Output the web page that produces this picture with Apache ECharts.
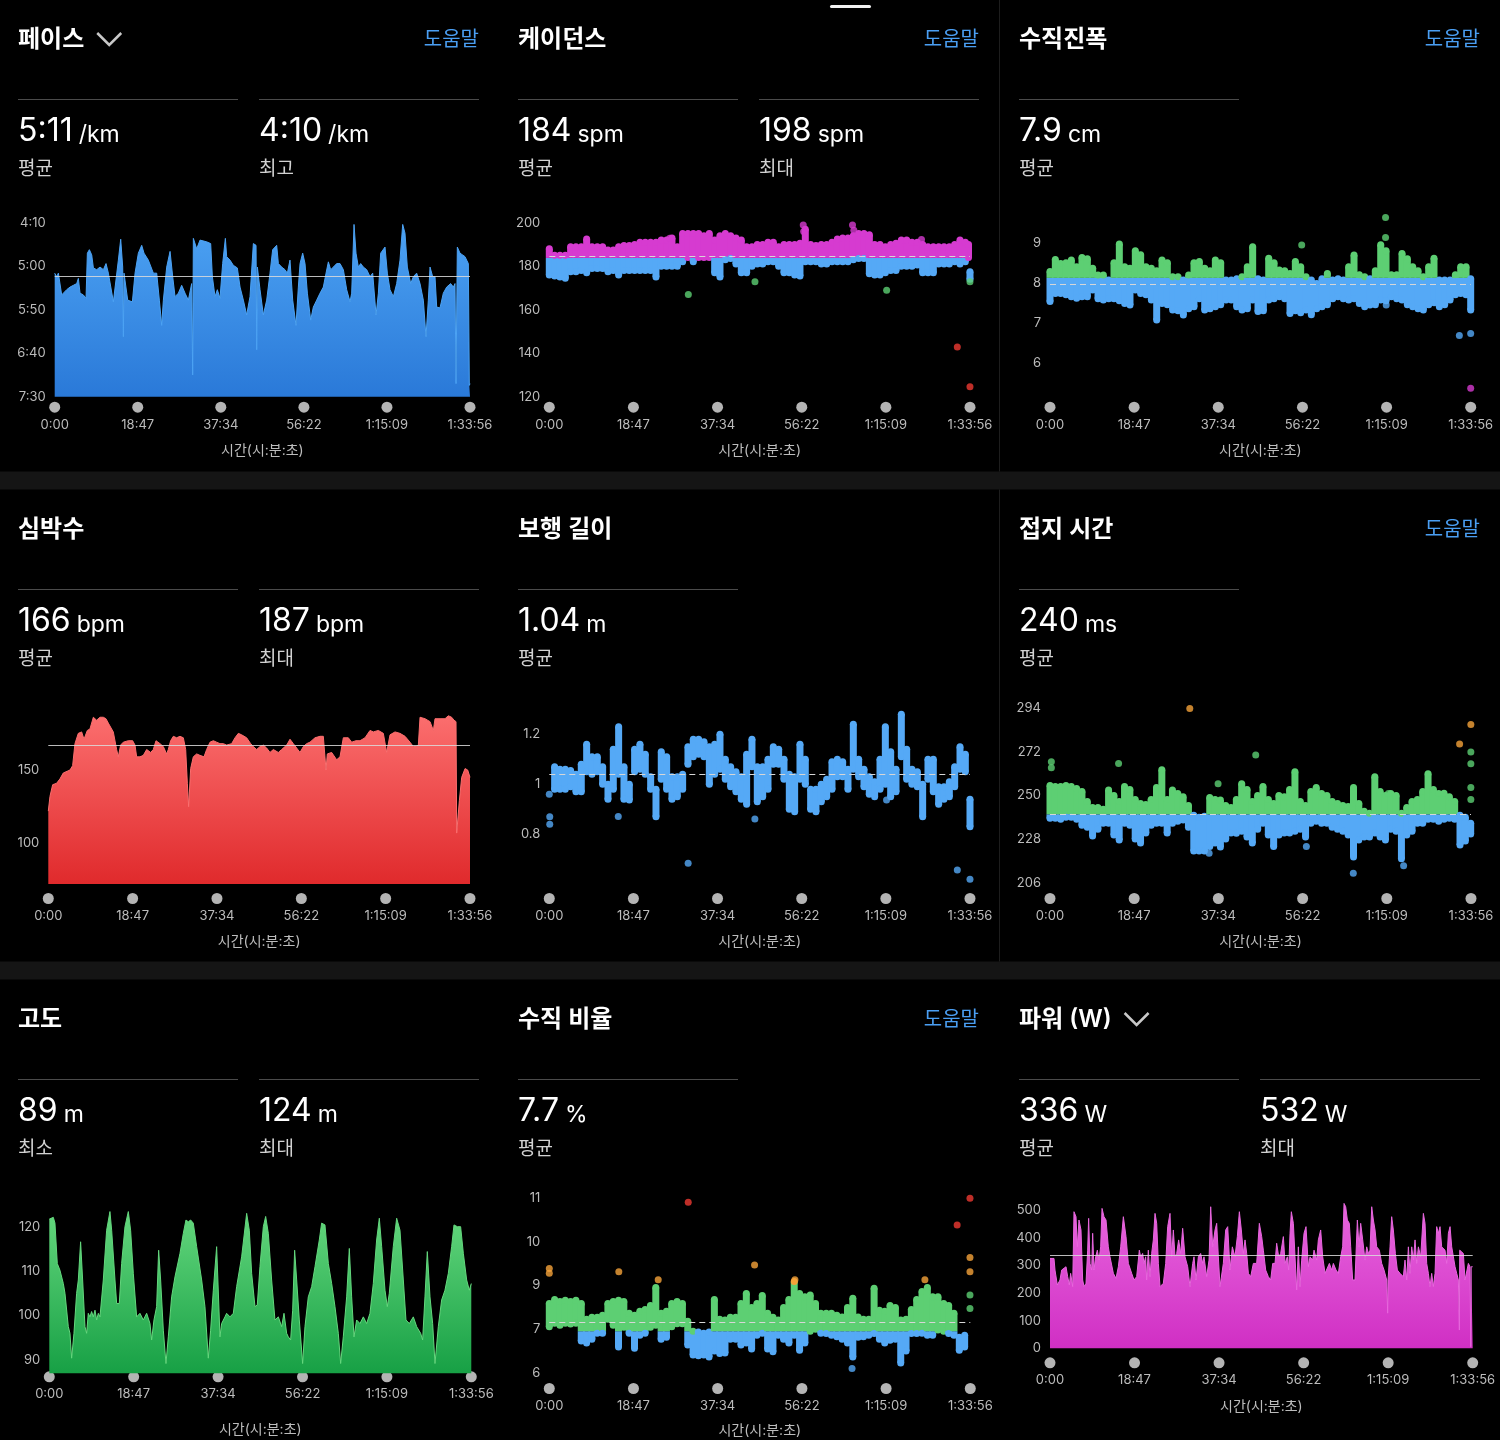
<!DOCTYPE html>
<html>
<head>
<meta charset="utf-8">
<script src="https://cdn.jsdelivr.net/npm/echarts@6/dist/echarts.min.js"></script>
<style>
  html, body { margin: 0; background: #000; }
  #chart { width: 1500px; height: 1440px; }
</style>
</head>
<body>
<div id="chart"></div>
<script>
// 시간축 (분 단위)
const xTicks = [0, 18.783, 37.567, 56.367, 75.15, 93.933];
const xTickLabels = ['0:00', '18:47', '37:34', '56:22', '1:15:09', '1:33:56'];

// 페이스 (초/km), [분, 초]
const paceTicks = [250, 300, 350, 400, 450];
const paceAvg = 311;
const pace = [[0,308],[0.45,312],[0.83,308],[1.58,333],[1.96,335],[2.71,327],[3.47,324],[4.22,322],[4.98,320],[5.35,314],[5.73,331],[6.48,333],[7.09,337],[7.39,285],[7.84,281],[8.37,287],[8.75,302],[9.5,304],[10.25,301],[11.01,304],[11.61,297],[12.14,308],[13.27,341],[13.65,339],[14.4,293],[14.93,269],[15.38,301],[15.53,381],[15.68,308],[16.51,339],[17.57,341],[18.17,308],[18.92,285],[19.68,276],[20.2,285],[21.18,293],[22.32,308],[23.07,308],[23.67,339],[24.2,368],[24.58,339],[25.33,301],[26.09,283],[26.69,312],[27.22,335],[27.97,331],[28.72,322],[29.48,331],[30.23,339],[30.98,320],[31.21,425],[31.36,268],[32.12,280],[32.87,270],[34.38,272],[35.28,274],[35.66,312],[36.26,335],[36.79,327],[37.39,337],[37.99,297],[38.6,268],[38.9,289],[39.65,293],[40.41,299],[41.31,302],[41.92,324],[42.67,339],[43.42,356],[44.18,335],[44.93,274],[45.54,276],[45.69,396],[45.84,301],[46.44,327],[47.19,356],[47.95,339],[48.7,308],[49.3,281],[50.21,276],[50.59,297],[51.34,301],[52.09,304],[52.62,308],[53.22,293],[53.83,339],[54.58,368],[55.11,324],[55.49,297],[56.09,285],[56.62,297],[57.15,331],[57.9,362],[58.5,347],[59.26,339],[60.01,331],[60.76,324],[61.37,308],[61.9,295],[62.42,304],[63.03,301],[63.78,297],[64.53,297],[65.29,304],[66.04,327],[66.8,341],[67.17,331],[67.7,252],[68.15,285],[68.68,301],[69.21,297],[69.81,301],[70.57,304],[71.32,312],[71.92,308],[72.68,356],[73.21,331],[73.73,285],[74.71,278],[75.24,308],[75.84,327],[76.6,335],[77.35,320],[78.1,293],[78.71,252],[79.23,262],[79.76,301],[80.52,320],[81.12,312],[81.87,308],[82.63,320],[83.38,339],[83.98,381],[84.51,339],[84.89,301],[85.49,312],[86.02,312],[86.4,347],[87.15,348],[87.9,331],[88.66,324],[89.56,320],[90.17,324],[90.54,320],[90.77,435],[91.07,278],[91.67,285],[92.8,289],[93.18,293],[93.56,297],[93.78,437],[93.93,435]];

// 케이던스 (spm): 띠 [분, 하단, 상단], 개별 점 [분, 값]
const cadenceTicks = [120, 140, 160, 180, 200];
const cadenceAvg = 184.4;
const cadenceBand = [[0,176,188],[1.19,175.5,185],[2.38,175,185],[3.57,174.5,185],[4.76,177.5,189],[5.95,177.5,189],[7.14,178,189],[8.34,177,192.5],[9.53,179,189],[10.72,179,189],[11.91,179,189],[13.1,177.5,187.5],[14.29,178,187.5],[15.48,176,189],[16.67,178,189.5],[17.86,178,189.5],[19.05,178,190],[20.24,178,191],[21.43,178,191],[22.62,178,191],[23.82,175,191],[25.0,180,192],[26.2,180,192],[27.39,180,193],[28.58,180,189],[29.77,182,195],[30.96,184,195],[32.15,182,195],[33.34,184,195],[34.53,184,194],[35.72,184,195],[36.92,177,192],[38.11,175,194],[39.3,183,195],[40.49,183.5,194],[41.68,181,193],[42.87,177,192],[44.06,177,189],[45.25,180,189],[46.44,181,190],[47.64,181,190],[48.83,182,191],[50.02,182,191],[51.21,180,189],[52.4,177,190],[53.59,177,190],[54.78,176,190],[55.97,175.5,190.5],[57.16,182,197],[58.35,182,190],[59.54,182,189.5],[60.74,181,190],[61.93,181,190],[63.12,182,191],[64.31,182,192.5],[65.5,182,193],[66.69,182,193],[67.88,183,194],[69.07,183.5,195],[70.26,183.5,195],[71.46,176.5,194.5],[72.65,176,190],[73.84,176,190],[75.03,177,189],[76.22,178,190],[77.41,178,190.5],[78.6,180,192],[79.79,180,192],[80.98,180,191],[82.17,180.5,191],[83.36,177,190],[84.56,177,189],[85.75,177,189],[86.94,181,189],[88.13,181,189],[89.32,181,189],[90.51,182,190],[91.7,181,192],[92.89,182,191],[93.6,184,190],[93.93,174,177.5]];
const cadenceDots = [[31.04,167],[45.92,172.9],[75.32,169],[93.93,172.9],[91.1,142.8],[93.93,124.6],[56.7,198.9],[56.8,195.9],[67.7,198.9],[68.0,196.5],[26.9,192.8],[83.1,192.3]];

// 수직진폭 (cm)
const voTicks = [6, 7, 8, 9];
const voAvg = 7.95;
const voBand = [[0,7.53,8.28],[1.19,7.73,8.58],[2.38,7.73,8.48],[3.57,7.7,8.5],[4.76,7.65,8.57],[5.95,7.61,8.4],[7.14,7.65,8.63],[8.34,7.65,8.6],[9.53,7.82,8.36],[10.72,7.6,8.19],[11.91,7.57,8.19],[13.1,7.6,8.07],[14.29,7.6,8.5],[15.48,7.55,8.97],[16.67,7.48,8.4],[17.86,7.44,8.36],[19.05,7.82,8.8],[20.24,7.73,8.7],[21.43,7.7,8.4],[22.63,7.57,8.36],[23.82,7.07,8.3],[25.01,7.48,8.57],[26.2,7.45,8.5],[27.39,7.32,8.15],[28.58,7.3,8.15],[29.77,7.19,8.07],[30.96,7.35,8.19],[32.15,7.4,8.5],[33.34,7.6,8.53],[34.54,7.32,8.36],[35.73,7.35,8.3],[36.92,7.4,8.57],[38.11,7.45,8.5],[39.3,7.57,8.07],[40.49,7.57,8.07],[41.68,7.4,8.1],[42.87,7.32,8.15],[44.06,7.35,8.4],[45.25,7.57,8.9],[46.44,7.28,8.1],[47.64,7.3,8.07],[48.83,7.57,8.61],[50.02,7.6,8.5],[51.21,7.65,8.32],[52.4,7.6,8.3],[53.59,7.23,8.23],[54.78,7.3,8.53],[55.97,7.25,8.4],[57.16,7.32,8.15],[58.35,7.2,8.07],[59.54,7.35,7.98],[60.73,7.4,8.1],[61.93,7.45,8.23],[63.12,7.6,8.07],[64.31,7.65,8.1],[65.5,7.6,8.07],[66.69,7.57,8.4],[67.88,7.6,8.69],[69.07,7.48,8.2],[70.26,7.4,8.15],[71.45,7.44,8.1],[72.64,7.45,8.3],[73.84,7.57,8.95],[75.03,7.55,8.8],[76.22,7.65,8.2],[77.41,7.6,8.2],[78.6,7.57,8.73],[79.79,7.45,8.6],[80.98,7.4,8.4],[82.17,7.35,8.3],[83.36,7.32,8.15],[84.55,7.45,8.4],[85.74,7.5,8.61],[86.93,7.4,8.07],[88.12,7.45,8.07],[89.32,7.57,8.07],[90.51,7.7,8.2],[91.7,7.73,8.4],[92.89,7.7,8.4],[93.93,7.32,8.1]];
const voDots = [[56.2,8.94],[74.92,9.63],[74.92,9.13],[75.07,7.44],[91.4,6.68],[93.93,6.73],[93.93,5.36]];

// 심박수 (bpm)
const hrTicks = [100, 150];
const hrAvg = 166.8;
const hr = [[0,122],[0.37,132],[0.97,140],[1.86,141],[2.6,144],[3.34,148],[4.83,150],[5.42,153],[5.94,168],[6.68,175],[7.43,176],[7.95,171],[8.69,177],[9.28,178],[10.03,186],[10.77,184],[11.51,186],[12.25,186],[12.85,185],[13.37,182],[14.48,176],[15.22,164],[15.59,159],[16.11,167],[16.71,169],[17.82,170],[18.79,170],[19.31,167],[19.68,159],[20.42,159],[21.16,160],[21.91,164],[22.8,162],[23.39,164],[23.99,170],[24.88,168],[25.62,166],[26.36,161],[26.73,164],[27.25,170],[27.85,173],[28.59,172],[29.33,173],[30.08,172],[30.6,164],[30.97,141],[31.26,125],[31.71,151],[32.3,159],[33.05,161],[33.79,160],[34.68,159],[35.27,164],[36.02,169],[36.76,170],[37.5,169],[38.24,168],[38.99,168],[39.73,167],[40.84,168],[41.59,172],[42.33,175],[43.07,174],[44.18,172],[45.08,168],[45.67,166],[46.41,164],[47.16,166],[47.9,167],[48.64,165],[49.38,162],[50.13,164],[51.24,162],[51.98,164],[53.1,167],[53.84,171],[54.58,168],[55.32,165],[56.07,162],[56.81,166],[57.55,168],[58.29,169],[59.41,172],[60.52,173],[61.26,173],[61.86,150],[62.15,161],[63.12,162],[64.23,157],[64.98,159],[65.72,172],[66.83,172],[67.58,169],[68.54,170],[69.43,170],[70.55,172],[71.66,177],[72.4,176],[73.52,177],[74.63,175],[75.37,162],[76.12,174],[77.23,176],[78.34,175],[79.46,173],[80.57,169],[81.31,166],[81.91,166],[82.43,167],[82.8,186],[83.92,185],[85.03,183],[85.77,177],[86.14,185],[87.26,185],[88.37,185],[89.11,187],[89.85,186],[90.37,184],[90.82,183],[90.97,107],[91.56,129],[92.08,145],[92.83,151],[93.42,150],[93.93,145]];

// 보행 길이 (m)
const strideTicks = [0.6, 0.8, 1, 1.2];
const strideAvg = 1.044;
const strideBand = [[1.19,0.98,1.07],[2.38,0.98,1.06],[3.57,0.98,1.06],[4.76,0.99,1.055],[5.95,0.97,1.04],[7.14,0.97,1.08],[8.34,1.05,1.16],[9.53,1.04,1.11],[10.72,1.05,1.11],[11.91,1.0,1.07],[13.1,0.94,1.0],[14.29,0.98,1.14],[15.48,1.04,1.23],[16.67,0.94,1.07],[17.86,0.937,1.0],[19.05,1.05,1.14],[20.24,1.06,1.16],[21.43,1.04,1.12],[22.63,0.98,1.03],[23.82,0.87,0.98],[25.0,1.02,1.13],[26.2,0.98,1.11],[27.39,0.94,1.03],[28.58,0.95,1.03],[29.77,0.98,1.04],[30.96,1.08,1.15],[32.15,1.11,1.18],[33.34,1.12,1.18],[34.54,1.11,1.17],[35.73,1.0,1.15],[36.92,1.04,1.16],[38.11,1.06,1.2],[39.3,1.02,1.1],[40.49,0.99,1.07],[41.68,0.97,1.05],[42.87,0.94,1.03],[44.06,0.92,1.12],[45.25,1.07,1.18],[46.44,0.93,1.07],[47.64,0.95,1.07],[48.83,0.98,1.1],[50.02,1.08,1.15],[51.21,1.08,1.14],[52.4,1.02,1.1],[53.59,0.9,1.04],[54.78,0.89,1.03],[55.97,1.02,1.16],[57.16,1.0,1.1],[58.35,0.9,0.98],[59.54,0.89,0.98],[60.73,0.93,1.0],[61.93,0.95,1.02],[63.12,0.98,1.09],[64.31,1.03,1.1],[65.5,1.03,1.09],[66.69,0.98,1.06],[67.88,1.06,1.24],[69.07,1.03,1.1],[70.26,0.99,1.06],[71.45,0.96,1.03],[72.64,0.95,1.01],[73.84,0.98,1.1],[75.03,1.0,1.23],[76.22,0.95,1.13],[77.41,0.97,1.06],[78.6,1.11,1.28],[79.79,1.02,1.14],[80.98,1.0,1.06],[82.17,0.99,1.05],[83.36,0.87,1.0],[84.55,1.02,1.1],[85.74,0.97,1.1],[86.93,0.92,0.99],[88.12,0.94,0.99],[89.32,0.95,1.01],[90.51,0.99,1.07],[91.7,1.06,1.15],[92.89,1.05,1.12],[93.93,0.83,0.94]];
const strideDots = [[0,0.96],[0.1,0.87],[0.1,0.84],[15.4,0.871],[31.0,0.684],[45.9,0.861],[75.3,0.937],[91.1,0.657],[93.93,0.62]];

// 접지 시간 (ms)
const gctTicks = [206, 228, 250, 272, 294];
const gctAvg = 240.7;
const gctBand = [[0,238.5,255],[1.19,238.5,254.5],[2.38,238,254.5],[3.56,239,255],[4.75,239,254.5],[5.94,238,253.5],[7.13,235,252],[8.32,234,247],[9.5,229.5,244],[10.69,233,244],[11.88,236,243],[13.07,236,252.8],[14.26,230,250],[15.44,227.5,247],[16.63,236,254.5],[17.82,235,253],[19.01,228,248],[20.2,226,246],[21.38,231,245.5],[22.57,235,248],[23.76,236,254],[24.95,236,263],[26.14,231,248],[27.32,236,252.8],[28.51,237,251],[29.7,237.6,249.4],[30.89,234,245],[32.08,222,240],[33.26,222,239],[34.45,222,239.5],[35.64,224.2,249],[36.83,226,248],[38.02,224,247.7],[39.2,228,245],[40.39,231,244],[41.58,230.9,248],[42.77,232,256],[43.96,229,253],[45.14,226,247],[46.33,233,250],[47.52,236,254.5],[48.71,230,248],[49.9,224.2,246],[51.08,230,250],[52.27,231,249.4],[53.46,231,253],[54.65,232,262],[55.84,233,247],[57.02,229,245],[58.21,236,252],[59.4,237,254],[60.59,236,251],[61.78,236,250],[62.96,234,247],[64.15,233,246],[65.34,232,245],[66.53,230,244.4],[67.72,219,254],[68.9,227.5,246],[70.09,229,242],[71.28,229,241],[72.47,231,259.5],[73.66,229,252],[74.84,227.5,250],[76.03,233,251],[77.22,232,250],[78.41,218,241],[79.6,230,244],[80.78,232,247],[81.97,236,248],[83.16,236,252],[84.35,238,261],[85.54,238,253],[86.72,237,251],[87.91,238,251.1],[89.1,238.5,249.4],[90.29,238,247],[91.48,225,240],[92.67,227,239],[93.86,230.5,236]];
const gctDots = [[31.19,294],[91.39,276],[93.9,285.9],[15.3,266.2],[45.9,270.4],[93.9,272],[93.9,266],[93.9,254],[93.9,248],[37.5,256],[75.5,251],[67.67,210.7],[78.9,214.5],[35.5,220.8],[57.2,224.2],[0.3,264],[0.3,267]];

// 고도 (m)
const altTicks = [90, 100, 110, 120];
const alt = [[0,121.7],[0.89,122.1],[1.26,120.8],[1.78,111.7],[2.37,110.2],[3.12,107.2],[3.49,105],[4.23,97.5],[4.6,96],[4.97,90.4],[5.49,96],[6.08,105],[6.46,108],[6.97,116.6],[7.42,108],[7.94,97.5],[8.31,96],[8.68,100.5],[9.05,99.7],[9.42,100.9],[9.79,99.7],[10.17,101.2],[10.54,99],[10.91,100.5],[11.28,99.7],[12.02,108],[12.76,119.2],[13.5,123.4],[13.88,119.2],[14.62,108],[14.99,102.7],[15.58,102.7],[16.1,111.7],[16.84,120],[17.59,123.4],[18.1,119.2],[18.7,109.5],[19.44,99.7],[20.18,100.5],[20.92,99],[21.67,100.5],[22.41,98.2],[22.78,94.5],[23.3,99],[23.89,102],[24.34,114.7],[24.78,108],[25.38,96.7],[25.97,89.2],[26.49,95.2],[27.23,104.2],[27.97,108.7],[29.09,114],[29.83,118.5],[30.42,121.5],[30.94,121.1],[31.46,121.5],[32.05,120.8],[32.8,115.5],[33.91,108],[34.65,102],[35.39,90.4],[35.91,96.7],[36.51,105.7],[37.25,115.5],[37.99,95.2],[38.36,98.2],[39.1,99.7],[39.47,100.5],[40.22,99.7],[40.96,100.5],[41.7,106.5],[42.81,113.2],[43.93,123],[44.52,119.2],[45.04,109.5],[45.78,102],[46.3,102.4],[46.89,111],[47.64,120],[48.16,122.3],[48.75,118.5],[49.49,108],[50.23,99],[50.98,99.7],[51.72,97.5],[52.24,100.5],[52.83,96],[53.2,95.2],[53.72,94.5],[54.17,101.2],[54.61,114.7],[55.06,108],[55.65,99],[56.39,89.2],[56.91,97.5],[57.65,104.2],[58.4,106.5],[59.14,111],[60.1,117],[60.62,120.8],[61.36,120.4],[62.11,111.7],[62.85,107.2],[63.59,102],[64.33,96],[64.85,89.2],[65.44,95.2],[66.19,104.2],[66.78,115.1],[67.3,104.2],[67.82,95.2],[68.41,99],[69.15,98.2],[69.9,99.7],[70.64,98.2],[71.38,100.5],[72.12,107.2],[72.86,117],[73.46,121.9],[73.98,115.5],[74.72,105.7],[75.24,102],[75.68,105],[76.57,115.5],[77.32,121.9],[78.06,119.2],[78.8,108],[79.39,99],[80.14,98.2],[81.03,99.7],[81.77,97.5],[82.66,96],[83.1,94.5],[83.62,104.2],[84.14,114.4],[84.74,104.2],[85.33,98.2],[85.85,89.2],[86.59,97.5],[87.33,103.5],[88.07,105.7],[88.82,109.5],[89.56,115.5],[90.08,120.4],[90.82,120],[91.56,120],[92.16,114],[92.9,108],[93.49,105.7],[93.93,107.2]];

// 수직 비율 (%)
const vrTicks = [6.35, 7.45, 8.55, 9.65, 10.75];
const vrAvg = 7.62;
const vrBand = [[0,7.51,8.1],[1.19,7.6,8.2],[2.38,7.55,8.15],[3.56,7.6,8.18],[4.75,7.58,8.15],[5.94,7.6,8.18],[7.13,7.15,8.1],[8.32,7.1,7.7],[9.5,7.2,7.75],[10.69,7.35,7.75],[11.88,7.35,7.8],[13.07,7.7,8.1],[14.26,7.55,8.15],[15.44,7.0,8.18],[16.63,7.5,8.15],[17.82,7.35,7.85],[19.01,6.97,7.8],[20.2,7.3,7.9],[21.38,7.35,7.95],[22.57,7.5,8.05],[23.76,7.55,8.5],[24.95,7.2,7.85],[26.14,7.25,7.9],[27.32,7.51,8.1],[28.51,7.59,8.15],[29.7,7.59,8.1],[30.89,7.05,7.65],[32.08,6.8,7.4],[33.26,6.78,7.38],[34.45,6.8,7.35],[35.64,6.75,7.38],[36.83,6.9,8.2],[38.02,6.84,7.7],[39.2,6.85,7.68],[40.39,7.2,7.75],[41.58,7.2,7.75],[42.77,7.05,8.1],[43.96,7.1,8.35],[45.14,6.95,8.0],[46.33,7.3,8.1],[47.52,7.35,8.3],[48.71,6.95,7.85],[49.9,6.88,7.75],[51.08,7.3,7.68],[52.27,7.2,8.0],[53.46,7.1,8.2],[54.65,7.3,8.65],[55.84,6.92,8.35],[57.02,7.1,8.27],[58.21,7.4,8.31],[59.4,7.45,8.1],[60.59,7.35,7.85],[61.78,7.34,7.85],[62.96,7.3,7.85],[64.15,7.26,7.8],[65.34,7.2,7.76],[66.53,7.1,8.0],[67.72,6.75,8.23],[68.9,7.25,7.76],[70.09,7.26,7.7],[71.28,7.3,7.7],[72.47,7.34,8.48],[73.66,7.2,7.93],[74.84,7.1,7.9],[76.03,7.17,8.05],[77.22,7.2,8.0],[78.41,6.6,7.68],[79.6,6.9,7.7],[80.78,7.34,7.95],[81.97,7.34,8.2],[83.16,7.35,8.4],[84.35,7.3,8.5],[85.54,7.3,8.27],[86.72,7.43,8.27],[88.0,7.4,8.1],[89.1,7.34,8.05],[90.29,7.3,7.85],[91.48,6.92,7.25],[92.67,7.0,7.3]];
const vrDots = [[0,8.98],[0,8.86],[15.51,8.9],[45.8,9.07],[93.86,9.26],[93.86,8.9],[24.3,8.7],[54.8,8.7],[83.8,8.7],[31.0,10.65],[91.0,10.08],[93.86,10.75],[67.55,6.46],[93.86,8.31],[93.86,7.97]];

// 파워 (W)
const powerTicks = [0, 100, 200, 300, 400, 500];
const powerAvg = 338;
const power = [[0,325],[0.89,325],[1.11,283],[1.63,229],[2.22,247],[2.59,283],[2.96,289],[3.56,295],[3.93,259],[4.3,229],[4.59,271],[5.04,223],[5.33,494],[5.78,476],[6.07,367],[6.44,464],[6.89,428],[7.26,247],[7.56,223],[8.0,235],[8.37,355],[8.59,470],[8.89,307],[9.26,283],[9.48,416],[9.78,283],[10.15,331],[10.52,355],[10.89,319],[11.26,367],[11.56,506],[12.0,476],[12.45,464],[12.96,367],[13.33,331],[14.08,271],[14.67,253],[15.19,295],[15.71,367],[16.3,476],[16.89,404],[17.41,307],[18.15,271],[18.67,247],[19.26,259],[19.85,355],[20.15,331],[20.59,343],[20.89,307],[21.26,331],[21.48,247],[21.85,355],[22.22,259],[22.59,343],[22.96,392],[23.34,488],[23.71,452],[24.08,307],[24.45,223],[25.19,235],[25.71,307],[26.15,440],[26.67,488],[27.04,331],[27.41,428],[27.78,331],[28.15,343],[28.59,392],[29.04,343],[29.48,434],[30.0,331],[30.6,295],[31.11,223],[31.71,307],[32.0,331],[32.45,247],[32.97,331],[33.48,343],[33.93,307],[34.22,331],[34.82,259],[35.34,319],[35.71,512],[36.15,367],[36.67,428],[37.04,452],[37.41,331],[37.78,223],[38.15,223],[38.52,307],[39.04,428],[39.49,440],[40.0,283],[40.52,367],[41.11,331],[41.63,404],[42.08,494],[42.52,428],[42.97,343],[43.34,392],[43.71,343],[44.08,271],[44.6,259],[45.19,307],[45.93,307],[46.52,452],[47.04,404],[47.41,355],[47.93,283],[48.52,259],[49.04,247],[49.49,307],[50.0,307],[50.37,380],[50.82,331],[51.26,343],[51.86,404],[52.23,307],[52.74,331],[53.04,283],[53.34,416],[53.63,494],[54.08,452],[54.45,331],[54.82,211],[55.19,367],[55.56,223],[55.93,319],[56.45,416],[56.89,440],[57.41,295],[57.78,331],[58.37,319],[58.67,355],[59.26,319],[59.63,392],[60.15,428],[60.6,331],[61.12,271],[61.49,271],[62.08,307],[62.6,283],[62.97,307],[63.56,283],[64.08,271],[64.6,331],[65.04,367],[65.34,524],[65.71,512],[66.08,464],[66.52,452],[66.82,367],[67.26,247],[67.78,247],[68.3,464],[68.67,367],[69.04,452],[69.49,392],[70.0,319],[70.38,367],[70.75,343],[71.12,355],[71.49,512],[71.86,464],[72.23,428],[72.6,367],[73.19,355],[73.71,307],[74.23,283],[74.82,247],[74.95,247],[75.04,127],[75.12,247],[75.27,283],[75.56,367],[75.93,476],[76.3,428],[76.75,343],[77.19,283],[77.78,271],[78.52,259],[78.89,319],[79.27,247],[79.64,367],[80.01,271],[80.38,367],[80.75,319],[81.12,392],[81.49,307],[81.86,367],[82.38,331],[82.97,488],[83.34,452],[83.71,307],[84.08,271],[84.45,223],[84.82,271],[85.19,223],[85.56,271],[85.93,440],[86.3,416],[86.67,440],[87.04,367],[87.41,367],[87.78,355],[88.16,307],[88.53,416],[88.9,440],[89.27,367],[89.64,367],[90.01,295],[90.38,271],[90.75,247],[90.9,247],[90.97,66],[91.05,355],[91.49,355],[91.86,343],[92.23,247],[92.6,247],[92.97,307],[93.34,295],[93.49,6],[93.6,295],[93.93,295]];

const BLUE = '#55a9f6', MAGENTA = '#d63bd0', GREEN = '#5dcf73', ORANGE = '#f5a23a', RED = '#ee3a32';
const FONT = 'Inter, "Noto Sans CJK KR", sans-serif';
const AXIS_COLOR = '#bcbcbc';

// 구간 경계와 색
const zones = {
  cadence: { cuts: [153.5, 163.5, 173.8, 183.8], colors: [RED, ORANGE, GREEN, BLUE, MAGENTA] },
  vo: { cuts: [6.4, 8.12, 9.75], colors: [MAGENTA, BLUE, GREEN, ORANGE] },
  stride: { cuts: [], colors: [BLUE] },
  gct: { cuts: [207.5, 240.5, 274], colors: [MAGENTA, BLUE, GREEN, ORANGE] },
  vr: { cuts: [6.1, 7.4, 8.65, 10.05], colors: [MAGENTA, BLUE, GREEN, ORANGE, RED] }
};

function zoneColor(z, v) {
  let k = 0;
  while (k < z.cuts.length && v >= z.cuts[k]) k++;
  return z.colors[k];
}

const paceFmt = v => Math.floor(v / 60) + ':' + String(v % 60).padStart(2, '0');

const panels = [
  { title: '페이스', chevron: true, help: true, stats: [['5:11', '/km', '평균'], ['4:10', '/km', '최고']],
    box: [54.7, 222.7, 415.3, 174], y: [250, 450], inverse: true, ticks: paceTicks, fmt: paceFmt,
    kind: 'area', data: pace, avg: paceAvg, grad: ['#4ca2f3', '#2a79d8'], xMargin: 5, nameGap: 47 },
  { title: '케이던스', help: true, stats: [['184', 'spm', '평균'], ['198', 'spm', '최대']],
    box: [549.3, 222.7, 420.7, 174], y: [120, 200], ticks: cadenceTicks,
    kind: 'band', band: cadenceBand, dots: cadenceDots, zone: zones.cadence, avg: cadenceAvg, xMargin: 5, nameGap: 47 },
  { title: '수직진폭', help: true, stats: [['7.9', 'cm', '평균']],
    box: [1050, 222.7, 420.7, 174], y: [5.15, 9.5], ticks: voTicks,
    kind: 'band', band: voBand, dots: voDots, zone: zones.vo, avg: voAvg, xMargin: 5, nameGap: 47 },
  { title: '심박수', stats: [['166', 'bpm', '평균'], ['187', 'bpm', '최대']],
    box: [48.3, 708, 421.7, 176], y: [72.3, 192.3], ticks: hrTicks,
    kind: 'area', data: hr, avg: hrAvg, grad: ['#fb6e6e', '#e02a2c'], xMargin: 9, nameGap: 51 },
  { title: '보행 길이', stats: [['1.04', 'm', '평균']],
    box: [549.3, 708, 420.7, 176], y: [0.601, 1.305], ticks: strideTicks,
    kind: 'band', band: strideBand, dots: strideDots, zone: zones.stride, avg: strideAvg, xMargin: 9, nameGap: 51 },
  { title: '접지 시간', help: true, stats: [['240', 'ms', '평균']],
    box: [1050, 708, 421, 176], y: [205.3, 294.2], ticks: gctTicks,
    kind: 'band', band: gctBand, dots: gctDots, zone: zones.gct, avg: gctAvg, xMargin: 9, nameGap: 51 },
  { title: '고도', stats: [['89', 'm', '최소'], ['124', 'm', '최대']],
    box: [49.3, 1208.9, 422, 164.4], y: [87, 124], ticks: altTicks,
    kind: 'area', data: alt, grad: ['#64d77d', '#17a045'], xMargin: -2, nameGap: 49 },
  { title: '수직 비율', help: true, stats: [['7.7', '%', '평균']],
    box: [549.3, 1190, 421, 188], y: [6.22, 10.96], ticks: vrTicks, fmt: v => String(Math.round(v)),
    kind: 'band', band: vrBand, dots: vrDots, zone: zones.vr, avg: vrAvg, xMargin: 5, nameGap: 46 },
  { title: '파워 (W)', chevron: true, stats: [['336', 'W', '평균'], ['532', 'W', '최대']],
    box: [1050, 1199, 422.7, 149.3], y: [0, 540], ticks: powerTicks,
    kind: 'area', data: power, avg: powerAvg, grad: ['#e866de', '#d02fc4'], xMargin: 9, nameGap: 51 }
];

const colX = [0, 500, 1001];
const rowY = [0, 490, 980];

const measureCtx = document.createElement('canvas').getContext('2d');
function textWidth(str, font) {
  measureCtx.font = font;
  return measureCtx.measureText(str).width;
}

function bandRenderer(z, w) {
  return (params, api) => {
    const t = api.value(0), lo = api.value(1), hi = api.value(2);
    const kids = [];
    let from = -Infinity;
    for (let k = 0; k <= z.cuts.length; k++) {
      const to = k < z.cuts.length ? z.cuts[k] : Infinity;
      const a = Math.max(lo, from), b = Math.min(hi, to);
      if (a < b) {
        const p1 = api.coord([t, a]), p2 = api.coord([t, b]);
        kids.push({ type: 'rect', shape: { x: p1[0] - w / 2, y: Math.min(p1[1], p2[1]), width: w, height: Math.abs(p1[1] - p2[1]) }, style: { fill: z.colors[k] } });
      }
      from = to;
    }
    [lo, hi].forEach(v => {
      const p = api.coord([t, v]);
      kids.push({ type: 'circle', shape: { cx: p[0], cy: p[1], r: w / 2 }, style: { fill: zoneColor(z, v) } });
    });
    return { type: 'group', children: kids };
  };
}

const grids = [], xAxes = [], yAxes = [], series = [], graphics = [];

const titleFont = '600 24px ' + FONT;
const helpFont = '400 20px ' + FONT;
const valueFont = '400 32px ' + FONT;
const unitFont = '400 23px ' + FONT;
const labelFont = '400 19px ' + FONT;

function txt(x, y, text, font, fill, align) {
  return { type: 'text', x: x, y: y, silent: true,
    style: { text: text, font: font, fill: fill, align: align || 'left', verticalAlign: 'middle' } };
}

// 배경 구분선
graphics.push({ type: 'rect', shape: { x: 0, y: 471.5, width: 1500, height: 18 }, style: { fill: '#151515' } });
graphics.push({ type: 'rect', shape: { x: 0, y: 961.5, width: 1500, height: 18 }, style: { fill: '#151515' } });
graphics.push({ type: 'rect', shape: { x: 999, y: 0, width: 1, height: 471.5 }, style: { fill: '#1d1d1d' } });
graphics.push({ type: 'rect', shape: { x: 999, y: 489.5, width: 1, height: 472 }, style: { fill: '#1d1d1d' } });
graphics.push({ type: 'rect', shape: { x: 830, y: 5, width: 41, height: 3, r: 1.5 }, style: { fill: '#f2f2f2' } });

panels.forEach((p, i) => {
  const X = colX[i % 3], Y = rowY[Math.floor(i / 3)];
  const tx = X + 18;

  // 머리글
  graphics.push(txt(tx, Y + 40, p.title, titleFont, '#ffffff'));
  if (p.chevron) {
    const cx = tx + textWidth(p.title, titleFont) + 13;
    graphics.push({ type: 'polyline', silent: true,
      shape: { points: [[cx, Y + 33], [cx + 12, Y + 45], [cx + 24, Y + 33]] },
      style: { stroke: '#c8c8c8', lineWidth: 2.5, fill: 'none' } });
  }
  if (p.help) graphics.push(txt(X + 479, Y + 39.5, '도움말', helpFont, '#4a9ef2', 'right'));

  p.stats.forEach((s, j) => {
    const sx = X + 18 + j * 241;
    graphics.push({ type: 'line', silent: true, shape: { x1: sx, y1: Y + 99.5, x2: sx + 220, y2: Y + 99.5 },
      style: { stroke: '#4b4b4b', lineWidth: 1 } });
    graphics.push(txt(sx, Y + 131.5, s[0], valueFont, '#ffffff'));
    graphics.push(txt(sx + textWidth(s[0], valueFont) + 6, Y + 135, s[1], unitFont, '#ffffff'));
    graphics.push(txt(sx, Y + 169.5, s[2], labelFont, '#d2d2d2'));
  });

  // 좌표계
  const [l, t, w, h] = p.box;
  grids.push({ left: l, top: t, width: w, height: h });

  xAxes.push({
    type: 'value', gridIndex: i, min: 0, max: xTicks[xTicks.length - 1],
    axisLine: { show: false }, axisTick: { show: false }, splitLine: { show: false },
    axisLabel: {
      customValues: xTicks, margin: p.xMargin,
      formatter: v => {
        let k = 0;
        xTicks.forEach((tv, n) => { if (Math.abs(tv - v) < Math.abs(xTicks[k] - v)) k = n; });
        return '{d| }\n{t|' + xTickLabels[k] + '}';
      },
      rich: {
        d: { width: 11, height: 11, borderRadius: 6, backgroundColor: '#b4b4b4', align: 'center' },
        t: { fontSize: 13, color: AXIS_COLOR, fontFamily: FONT, lineHeight: 24, align: 'center' }
      }
    },
    name: '시간(시:분:초)', nameLocation: 'middle', nameGap: p.nameGap,
    nameTextStyle: { color: AXIS_COLOR, fontSize: 14, fontFamily: FONT }
  });

  yAxes.push({
    type: 'value', gridIndex: i, min: p.y[0], max: p.y[1], inverse: !!p.inverse,
    axisLine: { show: false }, axisTick: { show: false }, splitLine: { show: false },
    axisLabel: { customValues: p.ticks, formatter: p.fmt || (v => String(v)), color: AXIS_COLOR, fontSize: 13, fontFamily: FONT, margin: 9 }
  });

  if (p.kind === 'area') {
    series.push({
      type: 'line', xAxisIndex: i, yAxisIndex: i, data: p.data, showSymbol: false, silent: true, clip: false,
      lineStyle: { width: 1, color: p.grad[0] },
      areaStyle: {
        origin: p.inverse ? 'end' : 'start', opacity: 1,
        color: new echarts.graphic.LinearGradient(0, 0, 0, 1, [{ offset: 0, color: p.grad[0] }, { offset: 1, color: p.grad[1] }])
      },
      markLine: p.avg === undefined ? undefined : {
        silent: true, symbol: 'none', label: { show: false }, animation: false,
        lineStyle: { color: '#dcdcdc', width: 1, type: 'solid', opacity: 0.85 },
        data: [{ yAxis: p.avg }]
      }
    });
  } else {
    series.push({
      type: 'custom', xAxisIndex: i, yAxisIndex: i, data: p.band, silent: true, clip: false, z: 2,
      encode: { x: 0, y: [1, 2] }, renderItem: bandRenderer(p.zone, 7)
    });
    series.push({
      type: 'scatter', xAxisIndex: i, yAxisIndex: i, data: p.dots, silent: true, clip: false, z: 3,
      symbolSize: 7, itemStyle: { color: d => zoneColor(p.zone, d.value[1]) },
      markLine: {
        silent: true, symbol: 'none', label: { show: false }, animation: false,
        lineStyle: { color: '#d6d6d6', width: 1, type: [6, 4] },
        data: [{ yAxis: p.avg }]
      }
    });
  }
});

const chart = echarts.init(document.getElementById('chart'));
chart.setOption({
  backgroundColor: '#000',
  animation: false,
  grid: grids,
  xAxis: xAxes,
  yAxis: yAxes,
  series: series,
  graphic: graphics
});
</script>
</body>
</html>
